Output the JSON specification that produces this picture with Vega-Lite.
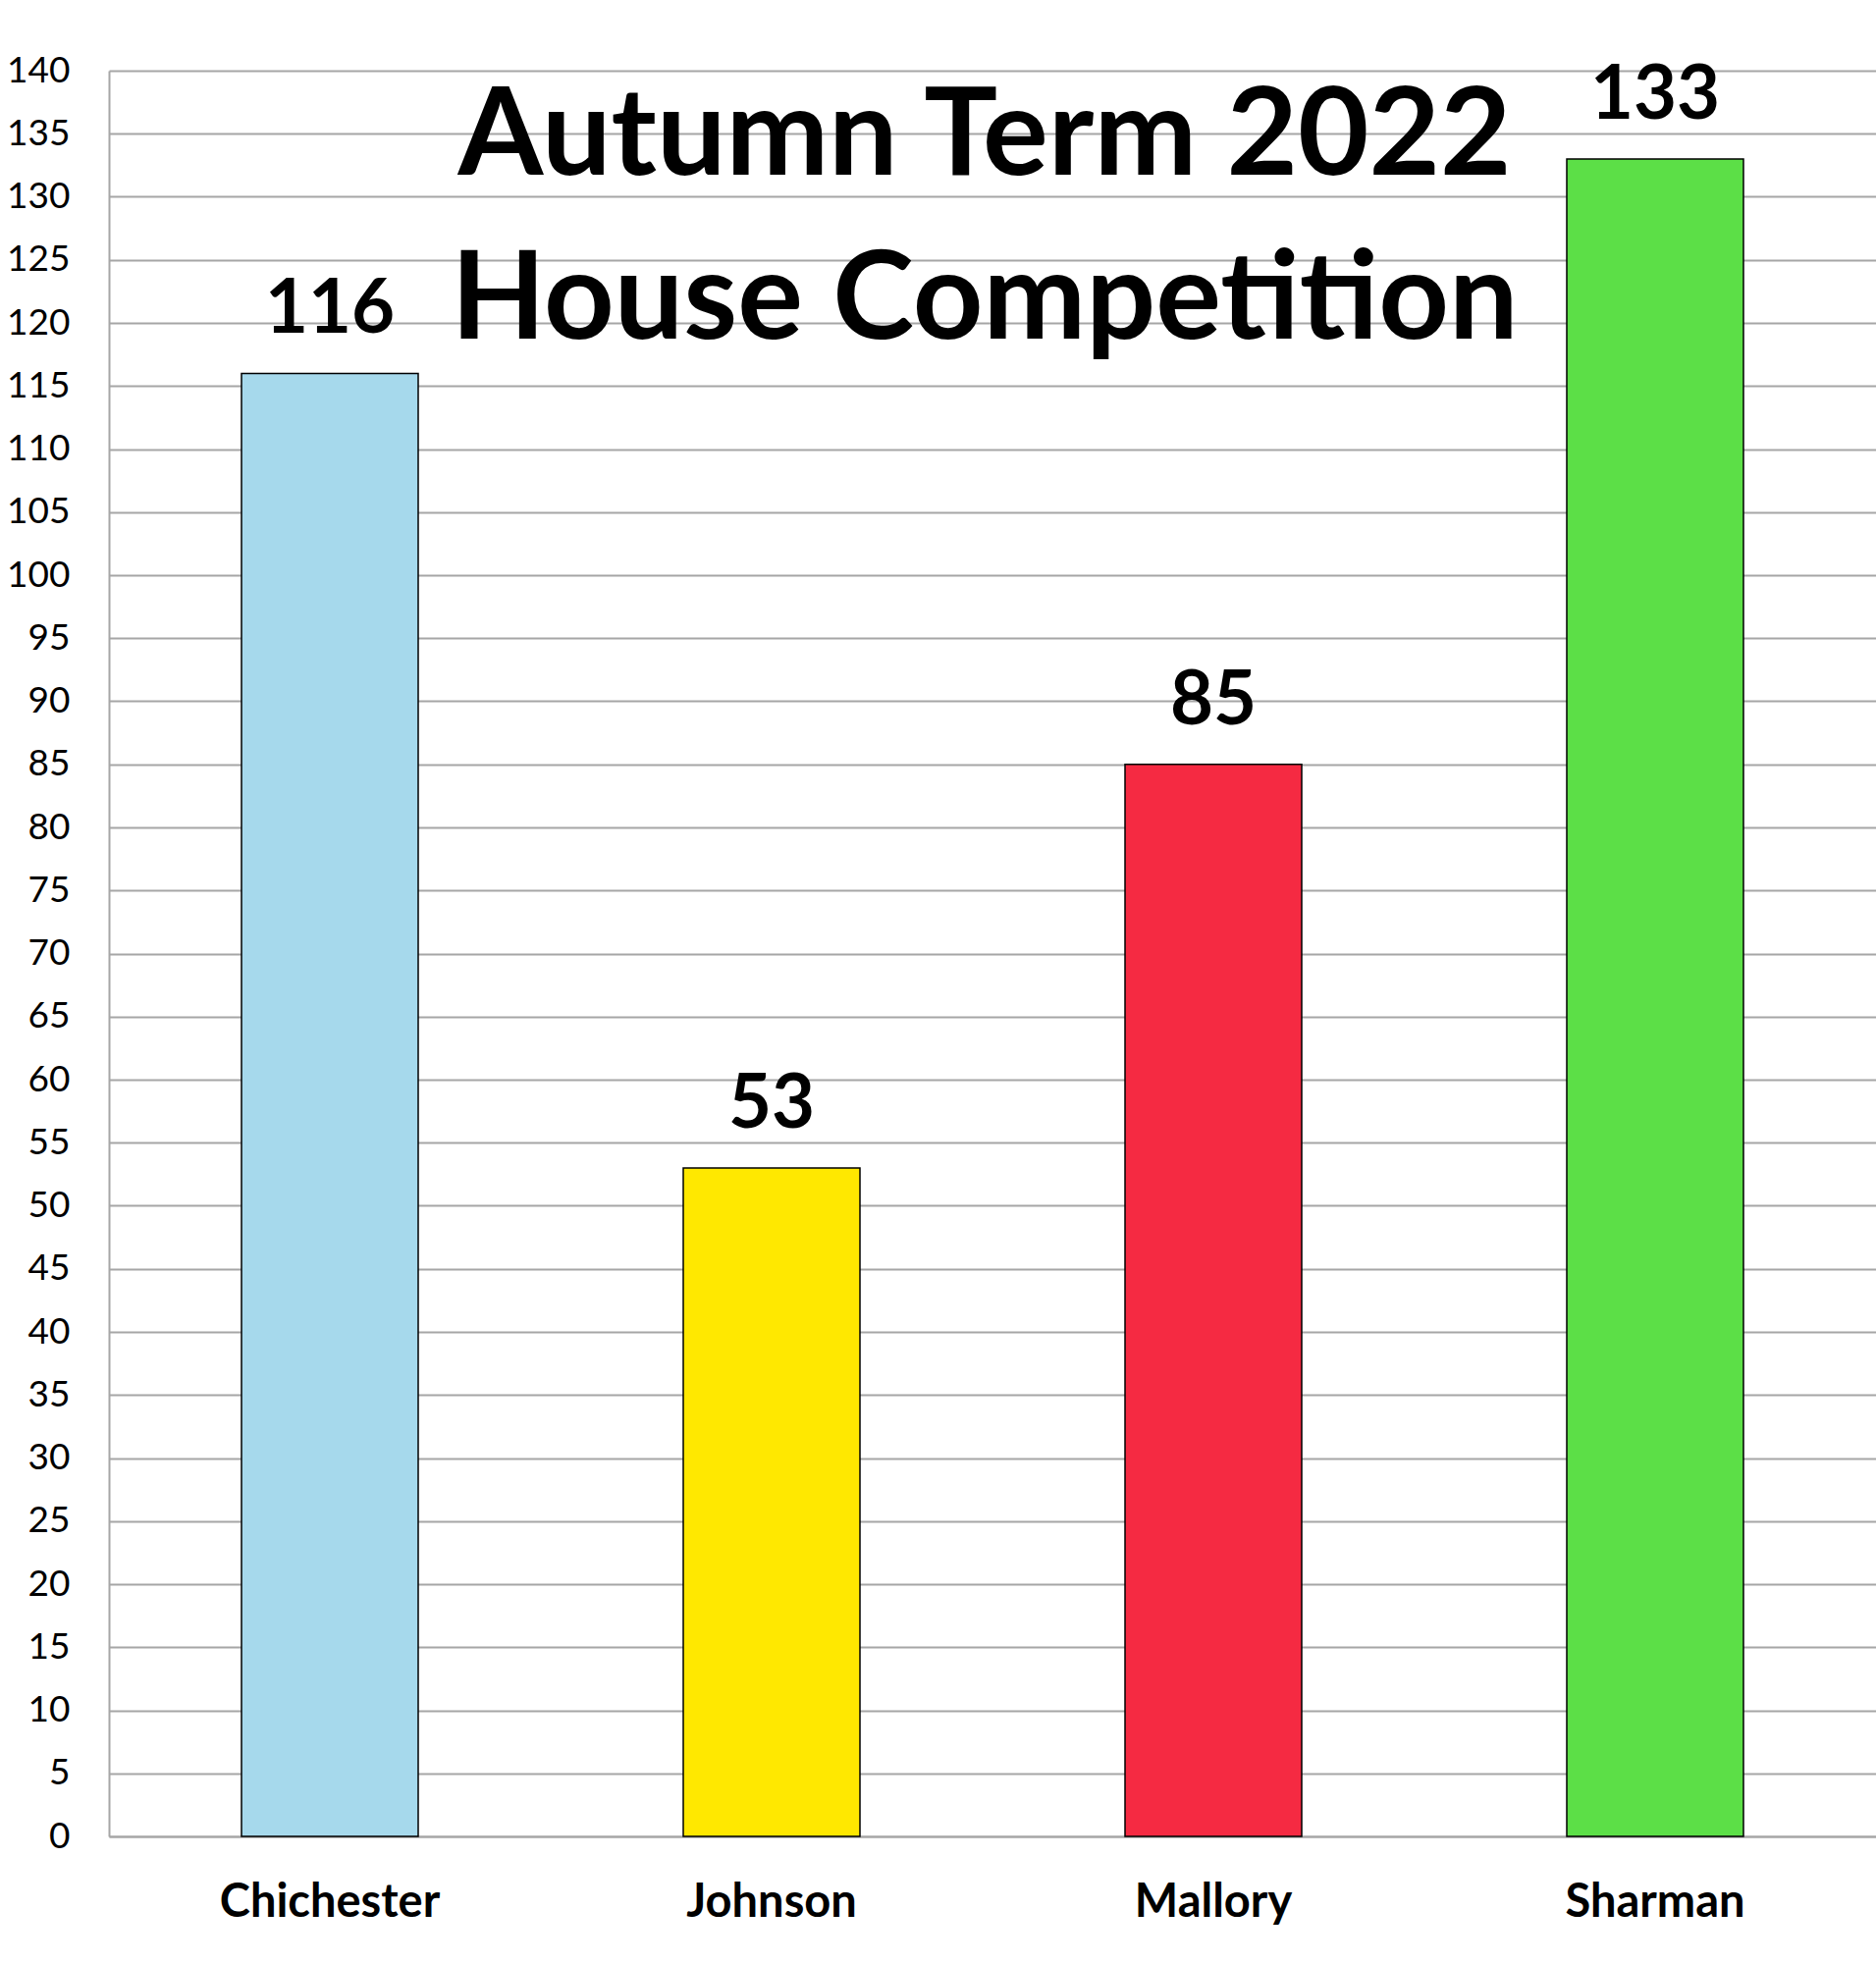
{
  "$schema": "https://vega.github.io/schema/vega-lite/v6.json",
  "autosize": "none",
  "padding": {"left": 111, "top": 72, "right": 0, "bottom": 129},
  "width": 1800,
  "height": 1799,
  "background": "white",
  "title": {
    "text": ["Autumn Term 2022", "House Competition"],
    "anchor": "middle",
    "frame": "group",
    "orient": "top",
    "font": "Lato",
    "fontWeight": "bold",
    "fontSize": 125,
    "lineHeight": 167,
    "color": "black",
    "offset": -318,
    "dx": -8
  },
  "data": {
    "values": [
      {"house": "Chichester", "points": 116},
      {"house": "Johnson", "points": 53},
      {"house": "Mallory", "points": 85},
      {"house": "Sharman", "points": 133}
    ]
  },
  "encoding": {
    "x": {
      "field": "house",
      "type": "nominal",
      "sort": null,
      "title": null,
      "scale": {"paddingInner": 0.6, "paddingOuter": 0.3},
      "axis": {
        "labelAngle": 0,
        "labelFont": "Lato",
        "labelFontWeight": "bold",
        "labelFontSize": 47,
        "labelColor": "black",
        "labelBaseline": "alphabetic",
        "labelPadding": 81,
        "labelLimit": 0,
        "ticks": false,
        "tickSize": 0,
        "domainColor": "#a6a6a6",
        "domainWidth": 2
      }
    },
    "y": {
      "field": "points",
      "type": "quantitative",
      "title": null,
      "scale": {"domain": [0, 140], "nice": false},
      "axis": {
        "values": [0, 5, 10, 15, 20, 25, 30, 35, 40, 45, 50, 55, 60, 65, 70, 75, 80, 85, 90, 95, 100, 105, 110, 115, 120, 125, 130, 135, 140],
        "labelFont": "Lato",
        "labelFontSize": 37,
        "labelColor": "black",
        "labelPadding": 40,
        "labelBaseline": "middle",
        "ticks": false,
        "tickSize": 0,
        "grid": true,
        "gridColor": "#a6a6a6",
        "gridWidth": 2,
        "domainColor": "#a6a6a6",
        "domainWidth": 2
      }
    }
  },
  "layer": [
    {
      "mark": {"type": "bar", "stroke": "black", "strokeWidth": 1.5},
      "encoding": {
        "color": {
          "field": "house",
          "type": "nominal",
          "scale": {
            "domain": ["Chichester", "Johnson", "Mallory", "Sharman"],
            "range": ["#a6d9ec", "#ffe800", "#f52a42", "#5cdf47"]
          },
          "legend": null
        }
      }
    },
    {
      "mark": {
        "type": "text",
        "font": "Lato",
        "fontWeight": "bold",
        "fontSize": 76,
        "baseline": "alphabetic",
        "dy": -41,
        "color": "black"
      },
      "encoding": {
        "text": {"field": "points", "type": "quantitative"}
      }
    }
  ],
  "config": {
    "view": {"stroke": null}
  }
}
